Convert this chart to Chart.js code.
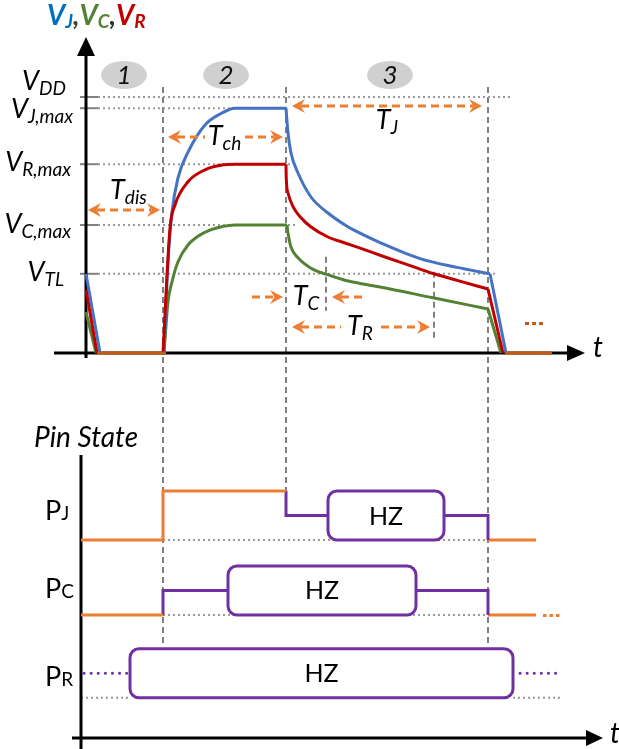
<!DOCTYPE html>
<html>
<head>
<meta charset="utf-8">
<script src="https://cdn.jsdelivr.net/npm/chart.js@4.4.1/dist/chart.umd.min.js"></script>
<style>
  html, body { margin: 0; padding: 0; background: #ffffff; }
  canvas { display: block; }
</style>
</head>
<body>
<canvas id="timing" width="619" height="749"></canvas>
<script>
// ---- time (arbitrary units) ----
const eventTimes = [19.25, 50, 100.5];      // charge start, release, cut-off
const thresholdTimes = [60, 87];            // V_C and V_R fall to V_TL
const phaseLabels = ['1', '2', '3'];
const phaseCenters = [9.5, 35, 76];

// ---- voltage reference levels ----
const levelMain = ['V', 'V', 'V', 'V', 'V'];
const levelSubs = ['DD', 'J,max', 'R,max', 'C,max', 'TL'];
const levelValues = [3.2, 3.06, 2.36, 1.6, 0.99];

// ---- V_J (blue) ----
const vjStart = [[0, 0.99], [3.5, 0]];
const vjCharge = [[19.5, 0], [20.5, 1.14], [21.5, 1.76], [23, 2.19], [25.5, 2.51], [29.75, 2.85], [34, 3.0], [37.25, 3.06], [50, 3.06]];
const vjRelease = [[50, 3.06], [50.5, 2.75], [51.25, 2.5], [53, 2.25], [56.25, 1.95], [60.5, 1.75], [64.75, 1.6], [68, 1.51], [73.5, 1.38], [83.5, 1.18], [92.75, 1.07], [101, 0.99]];
const vjCutoff = [[101, 0.99], [105, 0]];

// ---- V_R (red) ----
const vrStart = [[0, 0.79], [2.75, 0]];
const vrCharge = [[19.25, 0], [21, 1.56], [22.25, 1.85], [25.5, 2.14], [29.75, 2.29], [34, 2.35], [37.25, 2.36], [50, 2.36]];
const vrRelease = [[50, 2.36], [50.05, 2.2], [50.5, 2.0], [51.75, 1.83], [53.75, 1.69], [56.25, 1.575], [60.5, 1.45], [64.75, 1.375], [68, 1.32], [74.75, 1.2], [81.75, 1.08], [87, 0.99], [93, 0.905], [100.5, 0.8]];
const vrCutoff = [[100.5, 0.8], [104.25, 0]];

// ---- V_C (green) ----
const vcStart = [[0, 0.51], [2.5, 0]];
const vcCharge = [[19.5, 0], [20.5, 0.64], [21.5, 0.89], [23, 1.14], [25.5, 1.35], [29.75, 1.51], [34, 1.58], [37.25, 1.6], [50.25, 1.6]];
const vcRelease = [[50.25, 1.6], [50.5, 1.5], [51.25, 1.325], [53, 1.19], [56.25, 1.06], [60, 0.985], [64.75, 0.91], [68, 0.875], [73.5, 0.825], [86.75, 0.69], [100.5, 0.55]];
const vcCutoff = [[100.5, 0.55], [103.75, 0]];

// ---- all nodes held at ground ----
const groundHold = [[2.75, 0], [20, 0]];
const groundHoldAfter = [[104.75, 0], [116.5, 0]];

// ---- pin states (0 = low, 0.5 = released, 1 = high) ----
const pinSubs = ['J', 'C', 'R'];
const pjDriven = [[-1.25, 0], [19.25, 0], [19.25, 1], [50, 1]];
const pjReleased = [[50, 1], [50, 0.5], [100.5, 0.5], [100.5, 0]];
const pjDrivenAfter = [[100.5, 0], [112.5, 0]];
const pjHz = [60.5, 89.5];
const pcDriven = [[-1.25, 0], [19.25, 0]];
const pcReleased = [[19.25, 0], [19.25, 0.5], [100.5, 0.5], [100.5, 0]];
const pcDrivenAfter = [[100.5, 0], [112.5, 0]];
const pcHz = [35.5, 82.5];
const prHz = [11, 106.75];
const prBefore = [[-0.5, 0.5], [10.25, 0.5]];
const prAfter = [[108.5, 0.5], [119, 0.5]];

// ---- layout ----
const laneBase = [0, -1.53, -3.22];
const FONT = 'Lato, "DejaVu Sans", sans-serif';
const C = {
  blue: '#4472c4', red: '#c00000', green: '#548235',
  orange: '#ed7d31', rust: '#c55a11', purple: '#7030a0',
  guide: '#808080', dot: '#9a9a9a', badge: '#d0d0d0', ink: '#000000'
};
const MAIN = 27, SUBS = 19;

const pts = arr => arr.map(([x, y]) => ({ x, y }));
const pinPts = (arr, lane) => arr.map(([x, l]) => ({ x, y: laneBase[lane] + l }));

function curve(data, color, order, smooth) {
  return {
    data: pts(data), yAxisID: 'yV', borderColor: color, borderWidth: 3,
    pointRadius: 0, fill: false, order,
    tension: 0, cubicInterpolationMode: smooth ? 'monotone' : 'default'
  };
}
function pinLine(data, lane, color, dash) {
  return {
    data: pinPts(data, lane), yAxisID: 'yP', borderColor: color,
    borderWidth: 3, pointRadius: 0, fill: false, tension: 0, order: 5,
    borderDash: dash || [], borderCapStyle: dash ? 'round' : 'butt'
  };
}

// text made of runs: {t, size, dy, color, style}
function drawRuns(ctx, x, y, runs, align) {
  const fonts = runs.map(r => `${r.style || ''} ${r.size}px ${FONT}`);
  const widths = runs.map((r, i) => { ctx.font = fonts[i]; return ctx.measureText(r.t).width; });
  const total = widths.reduce((a, b) => a + b, 0);
  let cx = align === 'right' ? x - total : align === 'center' ? x - total / 2 : x;
  ctx.textBaseline = 'alphabetic';
  ctx.textAlign = 'left';
  runs.forEach((r, i) => {
    ctx.font = fonts[i];
    ctx.fillStyle = r.color || C.ink;
    ctx.fillText(r.t, cx, y + (r.dy || 0));
    cx += widths[i];
  });
}
function sub(main, s, size, subSize, style, color, dy) {
  return [
    { t: main, size, style, color },
    { t: s, size: subSize, style, color, dy: dy === undefined ? 5 : dy }
  ];
}

function arrowHead(ctx, x, y, dir) {
  ctx.beginPath();
  ctx.moveTo(x, y);
  ctx.lineTo(x - dir * 13, y - 7);
  ctx.lineTo(x - dir * 8.5, y);
  ctx.lineTo(x - dir * 13, y + 7);
  ctx.closePath();
  ctx.fill();
}
function dashedSpan(ctx, x1, x2, y) {
  ctx.beginPath();
  ctx.moveTo(x1, y);
  ctx.lineTo(x2, y);
  ctx.stroke();
}
function orangeArrow(ctx, x1, x2, y, headL, headR, gap) {
  ctx.save();
  ctx.strokeStyle = C.orange; ctx.fillStyle = C.orange;
  ctx.lineWidth = 3; ctx.setLineDash([8, 5]);
  const a = headL ? x1 + 9 : x1, b = headR ? x2 - 9 : x2;
  if (gap) { dashedSpan(ctx, a, gap[0], y); dashedSpan(ctx, gap[1], b, y); }
  else dashedSpan(ctx, a, b, y);
  ctx.setLineDash([]);
  if (headL) arrowHead(ctx, x1, y, -1);
  if (headR) arrowHead(ctx, x2, y, 1);
  ctx.restore();
}
function roundRect(ctx, x1, y1, x2, y2, r) {
  ctx.beginPath();
  ctx.moveTo(x1 + r, y1);
  ctx.lineTo(x2 - r, y1); ctx.arcTo(x2, y1, x2, y1 + r, r);
  ctx.lineTo(x2, y2 - r); ctx.arcTo(x2, y2, x2 - r, y2, r);
  ctx.lineTo(x1 + r, y2); ctx.arcTo(x1, y2, x1, y2 - r, r);
  ctx.lineTo(x1, y1 + r); ctx.arcTo(x1, y1, x1 + r, y1, r);
  ctx.closePath();
}

const diagram = {
  id: 'diagram',
  beforeDatasetsDraw(chart) {
    const ctx = chart.ctx;
    const X = t => chart.scales.x.getPixelForValue(t);
    const YV = v => chart.scales.yV.getPixelForValue(v);
    const YP = (lane, l) => chart.scales.yP.getPixelForValue(laneBase[lane] + l);
    const x0 = X(0), y0 = YV(0);
    ctx.save();

    // phase badges
    phaseCenters.forEach((t, i) => {
      ctx.fillStyle = C.badge;
      ctx.beginPath();
      ctx.ellipse(X(t), 75, 23, 14, 0, 0, Math.PI * 2);
      ctx.fill();
      drawRuns(ctx, X(t), 84, [{ t: phaseLabels[i], size: 26, style: 'italic', color: '#111' }], 'center');
    });

    // event guides
    ctx.strokeStyle = C.guide; ctx.lineWidth = 2; ctx.setLineDash([6, 4]);
    const guideTop = YV(levelValues[0]) - 10;
    const guideEnds = [YP(2, 1) - 5, YP(0, 1), YP(2, 1) - 5];
    eventTimes.forEach((t, i) => {
      ctx.beginPath(); ctx.moveTo(X(t), guideTop); ctx.lineTo(X(t), guideEnds[i]); ctx.stroke();
    });
    const vtl = YV(levelValues[4]);
    ctx.beginPath(); ctx.moveTo(X(thresholdTimes[0]), vtl - 17); ctx.lineTo(X(thresholdTimes[0]), vtl + 37); ctx.stroke();
    ctx.beginPath(); ctx.moveTo(X(thresholdTimes[1]), vtl - 2); ctx.lineTo(X(thresholdTimes[1]), vtl + 66); ctx.stroke();

    // reference levels: ticks, dotted lines, labels
    const levelEnds = [X(eventTimes[2]) + 22, X(eventTimes[1]), X(eventTimes[1]) + 10, X(eventTimes[1]) + 10, X(eventTimes[2]) + 10];
    const labelRight = [66, 73, 71, 71, 64];
    const labelBase = [90, 118, 171, 233, 281];
    levelValues.forEach((v, i) => {
      const y = YV(v);
      ctx.setLineDash([]); ctx.strokeStyle = C.guide; ctx.lineWidth = 2;
      ctx.beginPath(); ctx.moveTo(x0 - 6, y); ctx.lineTo(x0 + 12, y); ctx.stroke();
      ctx.setLineDash([2, 3]); ctx.strokeStyle = C.dot;
      ctx.beginPath(); ctx.moveTo(x0 + 12, y); ctx.lineTo(levelEnds[i], y); ctx.stroke();
      drawRuns(ctx, labelRight[i], labelBase[i], sub(levelMain[i], levelSubs[i], MAIN, SUBS, 'italic', C.ink, 5), 'right');
    });

    // pin baselines
    ctx.setLineDash([2, 3]); ctx.strokeStyle = C.dot; ctx.lineWidth = 2;
    [0, 1].forEach(l => {
      ctx.beginPath(); ctx.moveTo(X(eventTimes[0]), YP(l, 0)); ctx.lineTo(X(eventTimes[2]), YP(l, 0)); ctx.stroke();
    });
    ctx.beginPath(); ctx.moveTo(X(-1.25), YP(2, 0)); ctx.lineTo(X(prHz[0]), YP(2, 0)); ctx.stroke();
    ctx.beginPath(); ctx.moveTo(X(prHz[1]), YP(2, 0)); ctx.lineTo(X(119.25), YP(2, 0)); ctx.stroke();

    // axes
    ctx.setLineDash([]); ctx.strokeStyle = C.ink; ctx.fillStyle = C.ink; ctx.lineWidth = 3;
    ctx.beginPath(); ctx.moveTo(x0, y0 + 5); ctx.lineTo(x0, 50); ctx.stroke();
    ctx.beginPath(); ctx.moveTo(x0, 37); ctx.lineTo(x0 - 9, 56); ctx.lineTo(x0 + 9, 56); ctx.closePath(); ctx.fill();
    ctx.beginPath(); ctx.moveTo(54, y0); ctx.lineTo(572, y0); ctx.stroke();
    ctx.beginPath(); ctx.moveTo(585, y0); ctx.lineTo(567, y0 - 8); ctx.lineTo(567, y0 + 8); ctx.closePath(); ctx.fill();
    drawRuns(ctx, 593, y0 + 4, [{ t: 't', size: 28, style: 'italic' }], 'left');

    const px = X(-1.25), pb = 738;
    ctx.beginPath(); ctx.moveTo(px, 455); ctx.lineTo(px, 749); ctx.stroke();
    ctx.beginPath(); ctx.moveTo(72, pb); ctx.lineTo(590, pb); ctx.stroke();
    ctx.beginPath(); ctx.moveTo(603, pb); ctx.lineTo(586, pb - 8); ctx.lineTo(586, pb + 8); ctx.closePath(); ctx.fill();
    drawRuns(ctx, 610, pb + 5, [{ t: 't', size: 28, style: 'italic' }], 'left');
    ctx.restore();
  },
  afterDatasetsDraw(chart) {
    const ctx = chart.ctx;
    const X = t => chart.scales.x.getPixelForValue(t);
    const YP = (lane, l) => chart.scales.yP.getPixelForValue(laneBase[lane] + l);
    const [t1, t2, t3] = eventTimes;
    ctx.save();

    // title
    drawRuns(ctx, 47, 25, [
      { t: 'V', size: 28, style: 'italic bold', color: '#0070c0' },
      { t: 'J', size: 19, style: 'italic bold', color: '#0070c0', dy: 3 },
      { t: ',', size: 28, style: 'italic bold', color: '#2f4f2f' },
      { t: 'V', size: 28, style: 'italic bold', color: C.green },
      { t: 'C', size: 19, style: 'italic bold', color: C.green, dy: 3 },
      { t: ',', size: 28, style: 'italic bold', color: '#2f2f2f' },
      { t: 'V', size: 28, style: 'italic bold', color: C.red },
      { t: 'R', size: 19, style: 'italic bold', color: C.red, dy: 3 }
    ], 'left');

    // durations
    orangeArrow(ctx, X(0) + 2, X(t1) - 3, 210, true, true);
    drawRuns(ctx, (X(0) + X(t1)) / 2 + 4, 199, sub('T', 'dis', MAIN, SUBS, 'italic'), 'center');
    orangeArrow(ctx, X(t1) + 5, X(t2) - 3, 137, true, true, [205, 245]);
    drawRuns(ctx, (X(t1) + X(t2)) / 2, 145, sub('T', 'ch', MAIN, SUBS, 'italic'), 'center');
    orangeArrow(ctx, X(t2) + 6, X(t3) - 6, 106, true, true);
    drawRuns(ctx, (X(t2) + X(t3)) / 2, 129, sub('T', 'J', MAIN, SUBS, 'italic'), 'center');
    orangeArrow(ctx, X(t2) - 34, X(t2) - 3, 297, false, true);
    orangeArrow(ctx, X(thresholdTimes[0]) + 6, X(thresholdTimes[0]) + 36, 297, true, false);
    drawRuns(ctx, (X(t2) + X(thresholdTimes[0])) / 2, 305, sub('T', 'C', MAIN, SUBS, 'italic'), 'center');
    orangeArrow(ctx, X(t2) + 6, X(thresholdTimes[1]) - 4, 327, true, true, [341, 381]);
    drawRuns(ctx, (X(t2) + X(thresholdTimes[1])) / 2, 335, sub('T', 'R', MAIN, SUBS, 'italic'), 'center');

    // trailing dots
    ctx.fillStyle = C.rust;
    [0, 1, 2].forEach(i => ctx.fillRect(X(109.75) + i * 7, 322, 4, 3));
    ctx.fillStyle = C.orange;
    [0, 1, 2].forEach(i => ctx.fillRect(X(114.25) + i * 6.5, 614, 3.5, 3));

    // pin panel
    drawRuns(ctx, 34, 447, [{ t: 'Pin State', size: 28, style: 'italic' }], 'left');
    const pinBase = [520, 598, 686];
    pinSubs.forEach((s, i) => drawRuns(ctx, 45, pinBase[i], sub('P', s, MAIN, SUBS, '', C.ink, 0), 'left'));

    [[0, pjHz], [1, pcHz], [2, prHz]].forEach(([lane, hz]) => {
      roundRect(ctx, X(hz[0]), YP(lane, 1), X(hz[1]), YP(lane, 0), 9);
      ctx.fillStyle = '#ffffff'; ctx.fill();
      ctx.strokeStyle = C.purple; ctx.lineWidth = 3; ctx.stroke();
      drawRuns(ctx, (X(hz[0]) + X(hz[1])) / 2, YP(lane, 0.5) + 9, [{ t: 'HZ', size: 25 }], 'center');
    });
    ctx.restore();
  }
};

new Chart(document.getElementById('timing'), {
  type: 'line',
  data: {
    datasets: [
      curve(groundHold, C.rust, 0, false),
      curve(groundHoldAfter, C.rust, 0, false),
      curve(vrStart, C.red, 1, false),
      curve(vrCharge, C.red, 1, true),
      curve(vrRelease, C.red, 1, true),
      curve(vrCutoff, C.red, 1, false),
      curve(vjStart, C.blue, 2, false),
      curve(vjCharge, C.blue, 2, true),
      curve(vjRelease, C.blue, 2, true),
      curve(vjCutoff, C.blue, 2, false),
      curve(vcStart, C.green, 3, false),
      curve(vcCharge, C.green, 3, true),
      curve(vcRelease, C.green, 3, true),
      curve(vcCutoff, C.green, 3, false),
      pinLine(pjDriven, 0, C.orange),
      pinLine(pjReleased, 0, C.purple),
      pinLine(pjDrivenAfter, 0, C.orange),
      pinLine(pcDriven, 1, C.orange),
      pinLine(pcReleased, 1, C.purple),
      pinLine(pcDrivenAfter, 1, C.orange),
      pinLine(prBefore, 2, C.purple, [0.1, 7]),
      pinLine(prAfter, 2, C.purple, [0.1, 7])
    ]
  },
  options: {
    responsive: false,
    animation: false,
    devicePixelRatio: 1,
    layout: { padding: 0 },
    clip: false,
    plugins: { legend: { display: false }, tooltip: { enabled: false } },
    scales: {
      x: { type: 'linear', min: -21.5, max: 133.25, display: false },
      yV: { type: 'linear', min: -4.95, max: 4.4125, display: false },
      yP: { type: 'linear', min: -209 / 49, max: 540 / 49, display: false }
    }
  },
  plugins: [diagram]
});
</script>
</body>
</html>
